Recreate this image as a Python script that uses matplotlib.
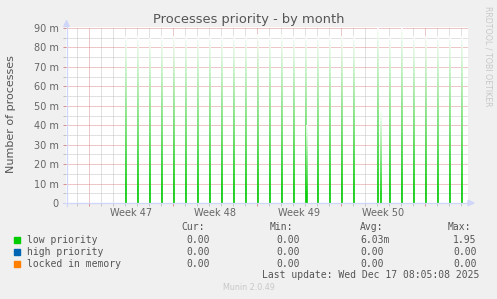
import numpy as np
import matplotlib
matplotlib.use("Agg")
import matplotlib.pyplot as plt
from matplotlib.collections import LineCollection
from matplotlib.patches import Polygon, Rectangle
from matplotlib.lines import Line2D

# ---------------- data ----------------
# x axis: days counted from the start of Week 47
spike_days = [3.08, 4.08, 5.08, 6.08, 7.08, 8.08, 9.08, 10.08, 11.08, 12.08,
              13.08, 14.08, 15.08, 16.08, 17.08, 18.08, 18.17, 19.08, 20.08,
              21.08, 22.08, 24.08, 24.30, 25.08, 26.08, 27.08, 28.08, 29.08,
              30.08, 31.08]
spike_values = [0.086, 0.086, 0.085, 0.086, 0.086, 0.086, 0.086, 0.086, 0.086, 0.086,
                0.086, 0.087, 0.086, 0.087, 0.086, 0.086, 0.040, 0.086, 0.086,
                0.086, 0.086, 0.090, 0.048, 0.086, 0.090, 0.086, 0.086, 0.086,
                0.086, 0.086]
week_labels = ["Week 47", "Week 48", "Week 49", "Week 50"]
week_label_pos = [3.5, 10.5, 17.5, 24.5]
week_bounds = [0, 7, 14, 21, 28]
y_ticks = [0, 0.01, 0.02, 0.03, 0.04, 0.05, 0.06, 0.07, 0.08, 0.09]
y_tick_labels = ["0", "10 m", "20 m", "30 m", "40 m", "50 m", "60 m", "70 m", "80 m", "90 m"]

legend_names = ["low priority", "high priority", "locked in memory"]
legend_colors = ["#00cc00", "#0066b3", "#ff8000"]
cur_vals = ["0.00", "0.00", "0.00"]
min_vals = ["0.00", "0.00", "0.00"]
avg_vals = ["6.03m", "0.00", "0.00"]
max_vals = ["1.95", "0.00", "0.00"]

# ---------------- layout ----------------
W, H = 497, 299
fig = plt.figure(figsize=(W / 100, H / 100), dpi=100, facecolor="#f0f0f0")

def fx(px):
    return px / W

def fy(py):
    return 1 - py / H

ax_l, ax_r, ax_t, ax_b = 66.0, 468.0, 27.0, 203.0
ax = fig.add_axes([fx(ax_l), fy(ax_b), (ax_r - ax_l) / W, (ax_b - ax_t) / H])
ax.set_facecolor("white")
ax.set_xlim((ax_l - 89.3) / 12.0, (ax_r - 89.3) / 12.0)
ax.set_ylim(0, 0.09 * (ax_b - ax_t) / 175.0)
for s in ax.spines.values():
    s.set_visible(False)

grid_red = "#dc9090"
grid_grey = "#c4c4c4"
dot = (0, (1, 1))

# grid
ax.set_yticks(y_ticks)
ax.set_yticklabels(y_tick_labels)
ax.set_yticks(np.arange(0.005, 0.09, 0.01), minor=True)
ax.set_xticks(week_bounds)
ax.set_xticklabels([])
day_ticks = [d for d in range(-1, 32) if d not in week_bounds]
ax.set_xticks(day_ticks, minor=True)
ax.grid(True, which="minor", color=grid_grey, linestyle=dot, linewidth=0.72)
ax.grid(True, which="major", color=grid_red, linestyle=dot, linewidth=0.72)
ax.set_axisbelow(True)

ax.tick_params(axis="y", which="major", length=2, width=0.72, color=grid_red,
               pad=3.4, labelsize=7, labelcolor="#666666")
ax.tick_params(axis="y", which="minor", length=2, width=0.72, color=grid_grey)
ax.tick_params(axis="x", which="major", length=2.5, width=0.72, color=grid_red)
ax.tick_params(axis="x", which="minor", length=2.5, width=0.72, color=grid_grey)

for lab, pos in zip(week_labels, week_label_pos):
    ax.text(pos, -0.055, lab, transform=ax.get_xaxis_transform(), ha="center",
            va="center", fontsize=7, color="#666666")

# spikes with vertical fade
green = np.array([0.0, 0.8, 0.0])
white = np.array([1.0, 1.0, 1.0])
nseg = 40
for d, v in zip(spike_days, spike_values):
    ys = np.linspace(0, v, nseg + 1)
    segs = [[(d, ys[i]), (d, ys[i + 1])] for i in range(nseg)]
    cols = []
    for i in range(nseg):
        a = 1 - ((ys[i] + ys[i + 1]) / 2) / v
        a = max(min(a * 1.1, 1.0), 0.0)
        c = white * (1 - a) + green * a
        cols.append(tuple(c))
    lc = LineCollection(segs, colors=cols, linewidths=1.2, capstyle="butt")
    ax.add_collection(lc)

# axes lines and arrows
axis_col = "#cfd6f8"
fig.add_artist(Line2D([fx(66.5), fx(66.5)], [fy(206), fy(24)], color=axis_col, lw=0.9,
                      transform=fig.transFigure))
fig.add_artist(Line2D([fx(63), fx(470)], [fy(203), fy(203)], color=axis_col, lw=0.9,
                      transform=fig.transFigure))
fig.add_artist(Polygon([[fx(63.8), fy(26.5)], [fx(69.2), fy(26.5)], [fx(66.5), fy(20.5)]],
                       closed=True, color=axis_col, transform=fig.transFigure))
fig.add_artist(Polygon([[fx(468), fy(200.3)], [fx(468), fy(205.7)], [fx(474), fy(203)]],
                       closed=True, color=axis_col, transform=fig.transFigure))

# titles
fig.text(fx(248.5), fy(19), "Processes priority - by month", ha="center", va="center",
         fontsize=9.4, color="#555555")
fig.text(fx(11), fy(114), "Number of processes", rotation=90, ha="center", va="center",
         fontsize=8, color="#555555")
fig.text(fx(488), fy(56), "RRDTOOL / TOBI OETIKER", rotation=270, ha="center",
         va="center", fontsize=5.7, color="#c8c8c8")

# legend
mono = "DejaVu Sans Mono"
tc = "#555555"
hy = 227.5
for lab, x in zip(["Cur:", "Min:", "Avg:", "Max:"], [181, 270, 360, 448]):
    fig.text(fx(x), fy(hy), lab, family=mono, fontsize=7, color=tc, va="center")
row_y = [240, 252, 264]
for i in range(3):
    y = row_y[i]
    fig.add_artist(Rectangle((fx(14), fy(y + 3)), 6 / W, 6 / H, color=legend_colors[i],
                             transform=fig.transFigure))
    fig.text(fx(27), fy(y), legend_names[i], family=mono, fontsize=7, color=tc, va="center")
    fig.text(fx(186), fy(y), cur_vals[i], family=mono, fontsize=7, color=tc, va="center")
    fig.text(fx(276), fy(y), min_vals[i], family=mono, fontsize=7, color=tc, va="center")
    fig.text(fx(360), fy(y), avg_vals[i], family=mono, fontsize=7, color=tc, va="center")
    fig.text(fx(453), fy(y), max_vals[i], family=mono, fontsize=7, color=tc, va="center")

fig.text(fx(262), fy(275.5), "Last update: Wed Dec 17 08:05:08 2025", family=mono,
         fontsize=7, color=tc, va="center")
fig.text(fx(248.5), fy(287), "Munin 2.0.49", ha="center", va="center", fontsize=5.8,
         color="#c8c8c8")

fig.savefig("out.png", dpi=100, facecolor=fig.get_facecolor())
